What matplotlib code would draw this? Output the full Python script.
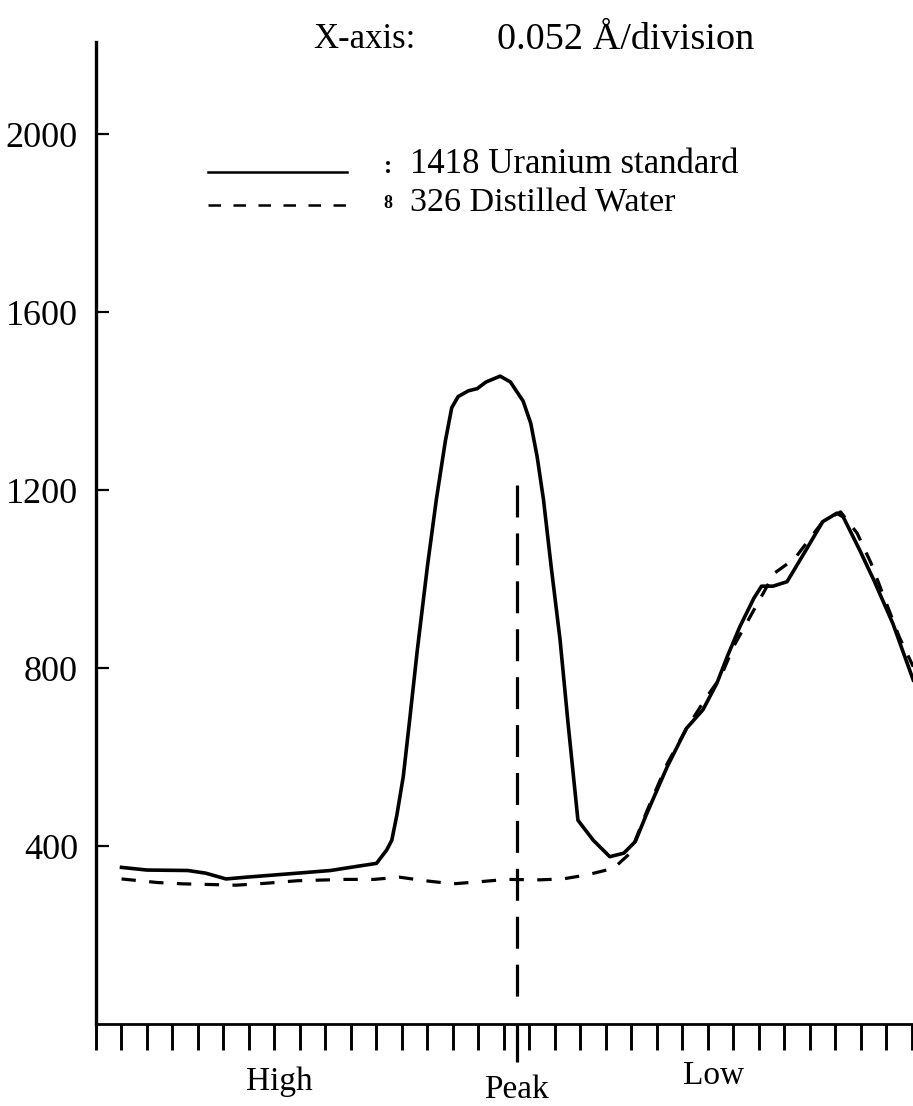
import numpy as np
import matplotlib
matplotlib.use('Agg')
import matplotlib.pyplot as plt
import matplotlib.transforms as mtransforms

# ---------------------------------------------------------------------------
# Scan across the uranium line; x in detector divisions (0.052 A each),
# y in counts.
# ---------------------------------------------------------------------------
uranium_x = [1.0, 2.0, 3.6, 4.3, 5.1, 5.9, 7.9, 9.2, 10.2, 11.0, 11.4, 11.6,
             11.8, 12.05, 12.3, 12.6, 13.0, 13.35, 13.7, 13.95, 14.2, 14.6,
             14.95, 15.3, 15.85, 16.25, 16.75, 17.05, 17.3, 17.55, 17.85, 18.2,
             18.5, 18.9, 19.5, 20.15, 20.7, 21.15, 21.6, 22.4, 23.15, 23.8,
             24.35, 24.75, 25.25, 25.8, 26.1, 26.55, 27.1, 27.8, 28.5, 29.05,
             29.3, 29.95, 30.5, 31.25, 32.05]
uranium_y = [352, 346, 345, 339, 326, 330, 339, 345, 354, 361, 391, 413,
             470, 556, 683, 840, 1030, 1180, 1310, 1385, 1410, 1423,
             1428, 1443, 1456, 1443, 1400, 1350, 1275, 1178, 1028, 863,
             683, 458, 413, 376, 384, 410, 473, 578, 664, 706,
             766, 825, 893, 957, 984, 984, 994, 1061, 1129, 1148,
             1140, 1065, 998, 900, 773]

water_x = [1.0, 2.4, 3.4, 5.5, 6.6, 7.9, 9.8, 10.9, 11.9, 12.9, 14.0, 15.1,
           16.1, 17.4, 18.3, 19.25, 20.3, 20.95, 21.6, 22.4, 23.2, 23.95,
           24.5, 25.0, 26.6, 27.4, 28.5, 29.2, 29.85, 30.4, 31.5, 32.05]
water_y = [326, 318, 315, 312, 316, 322, 325, 325, 330, 322, 315, 320,
           325, 324, 326, 335, 350, 384, 478, 585, 668, 735,
           780, 848, 1013, 1046, 1129, 1151, 1103, 1035, 870, 803]

series_labels = ['1418 Uranium standard', '326 Distilled Water']
peak_pos = 16.5
peak_line = (1212, 30)   # drawn top-down so the dash pattern starts at the top
y_ticks = [400, 800, 1200, 1600, 2000]
x_divisions = np.arange(0, 33)
region_labels = ['High', 'Peak', 'Low']
region_pos = [7.2, 16.5, 24.2]

plt.rcParams['font.family'] = ['Liberation Serif', 'DejaVu Serif']

fig = plt.figure(figsize=(9.13, 11.06), dpi=100)
ax = fig.add_axes([96 / 913, 82 / 1106, 817 / 913, 982 / 1106])

ax.plot(uranium_x, uranium_y, color='black', lw=2.6, solid_joinstyle='round',
        clip_on=False)
ax.plot(water_x, water_y, color='black', lw=2.3, linestyle=(0, (4.5, 4.2)),
        clip_on=False)
ax.plot([peak_pos, peak_pos], peak_line, color='black', lw=2.3,
        linestyle=(0, (10, 5)))

ax.set_xlim(0, 32.04)
ax.set_ylim(0, 2207)

for side in ['top', 'right']:
    ax.spines[side].set_visible(False)
ax.spines['left'].set_linewidth(2.4)
ax.spines['bottom'].set_linewidth(2.0)

ax.set_xticks(x_divisions)
ax.set_xticklabels([])
ax.set_xticks([peak_pos], minor=True)
ax.tick_params(axis='x', which='major', direction='out', length=19, width=2.1)
ax.tick_params(axis='x', which='minor', direction='out', length=27, width=2.3)

ax.set_yticks(y_ticks)
ax.set_yticklabels([str(v) for v in y_ticks], fontsize=26)
ax.tick_params(axis='y', direction='in', length=9, width=1.6, pad=13)

# region labels under the axis
trans = mtransforms.blended_transform_factory(ax.transData, ax.transAxes)
offsets = [-0.059, -0.067, -0.053]
for lab, xp, off in zip(region_labels, region_pos, offsets):
    ax.text(xp, off, lab, transform=trans, ha='center', va='center', fontsize=24)

# hand drawn style legend
ax.plot([0.137, 0.307], [0.868, 0.868], transform=ax.transAxes, color='black', lw=1.8)
ax.plot([0.137, 0.307], [0.834, 0.834], transform=ax.transAxes, color='black', lw=1.8,
        linestyle=(0, (5, 5)))
ax.text(0.357, 0.873, ':', transform=ax.transAxes, ha='center', va='center',
        fontsize=18, fontweight='bold')
ax.text(0.357, 0.836, '8', transform=ax.transAxes, ha='center', va='center',
        fontsize=13, fontweight='bold')
ax.text(0.384, 0.875, series_labels[0], transform=ax.transAxes, ha='left',
        va='center', fontsize=25)
ax.text(0.384, 0.837, series_labels[1], transform=ax.transAxes, ha='left',
        va='center', fontsize=24.5)

fig.text(313 / 913, 1 - 40 / 1106, 'X-axis:', ha='left', va='center', fontsize=25)
fig.text(497 / 913, 1 - 40 / 1106, '0.052 \u00c5/division', ha='left', va='center',
         fontsize=27.5)

fig.savefig('out.png', dpi=100)
